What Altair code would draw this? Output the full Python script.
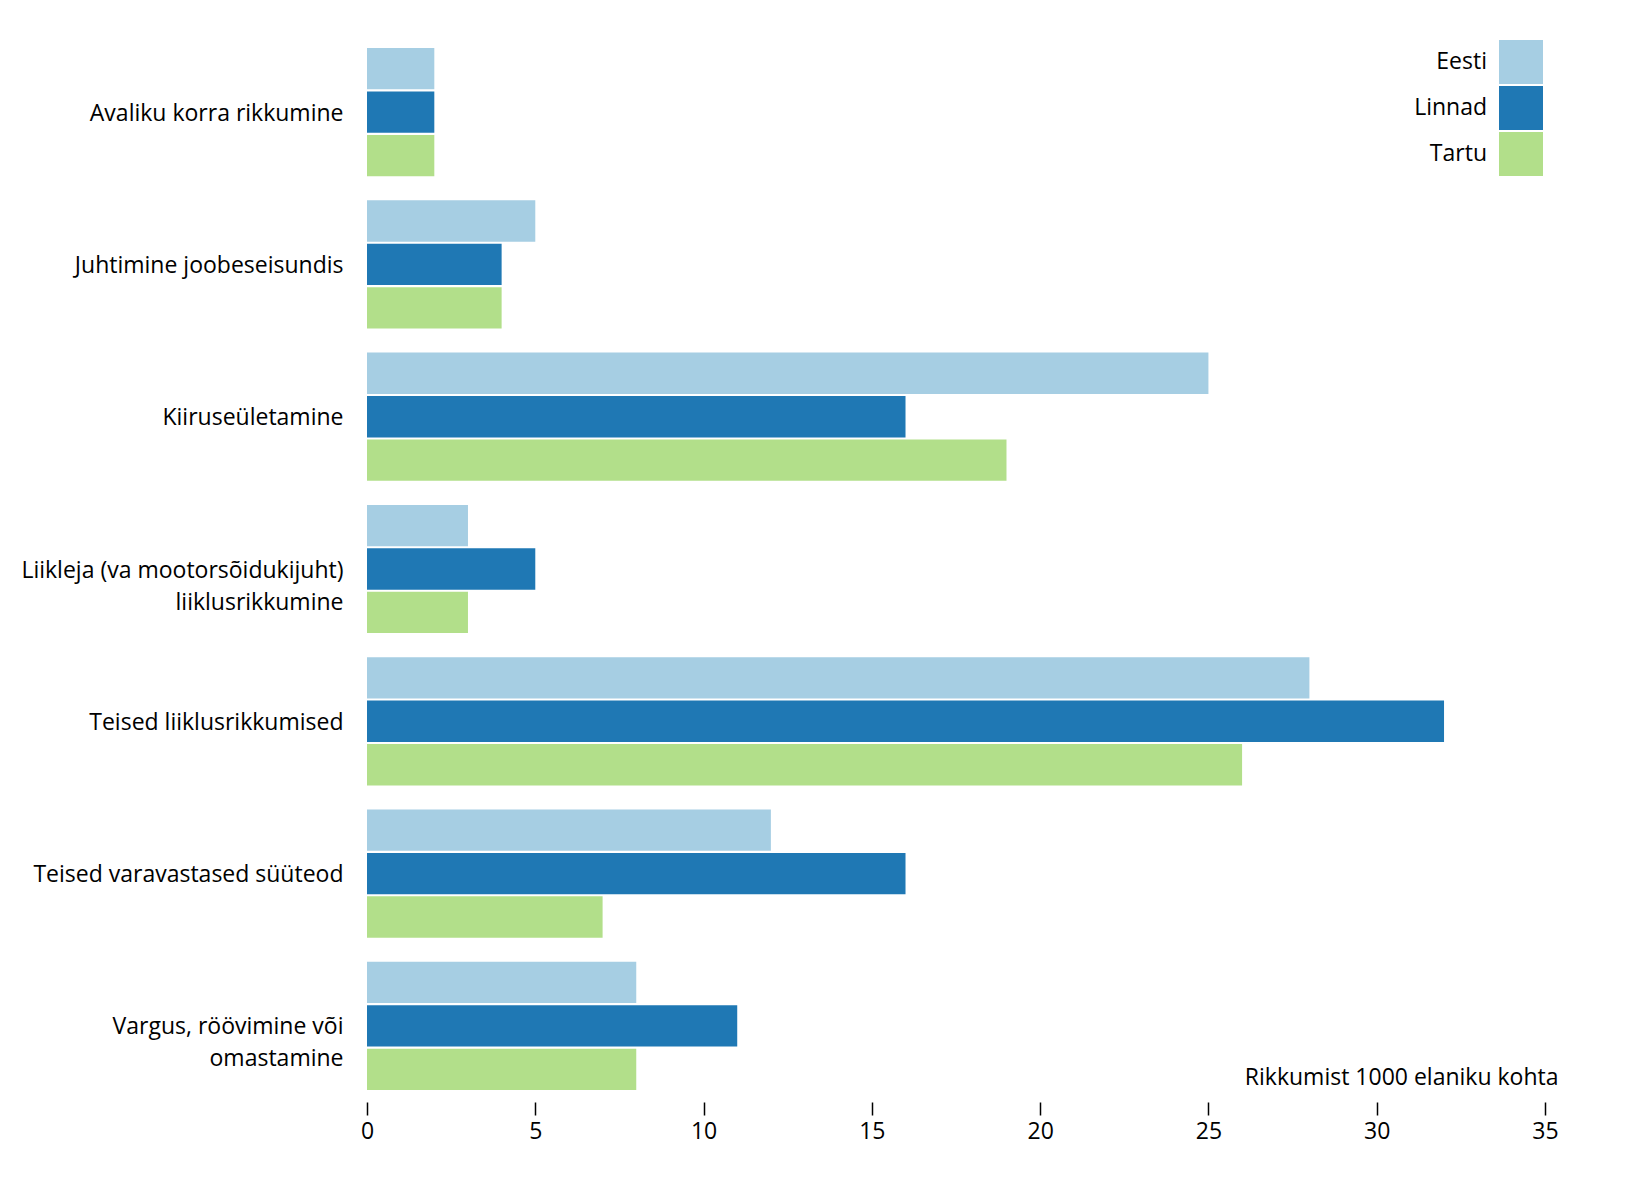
import altair as alt
import pandas as pd

categories = [
    "Avaliku korra rikkumine",
    "Juhtimine joobeseisundis",
    "Kiiruseületamine",
    "Liikleja (va mootorsõidukijuht)\nliiklusrikkumine",
    "Teised liiklusrikkumised",
    "Teised varavastased süüteod",
    "Vargus, röövimine või\nomastamine",
]
series = ["Eesti", "Linnad", "Tartu"]
eesti = [2, 5, 25, 3, 28, 12, 8]
linnad = [2, 4, 16, 5, 32, 16, 11]
tartu = [2, 4, 19, 3, 26, 7, 8]
colors = ["#a6cee3", "#1f78b4", "#b2df8a"]
x_ticks = [0, 5, 10, 15, 20, 25, 30, 35]
x_title = "Rikkumist 1000 elaniku kohta"

rows = []
for s, vals in zip(series, [eesti, linnad, tartu]):
    for c, v in zip(categories, vals):
        rows.append({"category": c, "series": s, "value": v})
df = pd.DataFrame(rows)

FONT = "Open Sans"
FS = 23

chart = alt.Chart(df).mark_bar().encode(
    x=alt.X(
        "value:Q",
        scale=alt.Scale(domain=[0, 35], nice=False, zero=True),
        axis=alt.Axis(
            values=x_ticks, title=x_title, domain=False, grid=False,
            tickSize=13, tickWidth=1.5, tickColor="black",
            labelFontSize=FS, labelFont=FONT, labelColor="black", labelPadding=5,
            labelFlush=False, offset=12,
            titleX=1191, titleY=-25, titleAlign="right", titleBaseline="middle",
            titleFontWeight="normal", titleFontSize=FS, titleFont=FONT, titleColor="black",
        ),
    ),
    y=alt.Y(
        "category:N", sort=categories,
        scale=alt.Scale(paddingInner=0.158, paddingOuter=0),
        axis=alt.Axis(
            title=None, domain=False, ticks=False, labelFontSize=FS, labelFont=FONT,
            labelColor="black", labelPadding=24, labelLimit=500, labelLineHeight=32,
            labelOffset=1.5,
            labelExpr="split(datum.label, '\\n')",
        ),
    ),
    yOffset=alt.YOffset("series:N", sort=series,
                        scale=alt.Scale(paddingInner=0.048, paddingOuter=0)),
    color=alt.Color(
        "series:N", scale=alt.Scale(domain=series, range=colors),
        legend=alt.Legend(
            title=None, orient="none", legendX=1132, legendY=-8,
            symbolType="square", symbolSize=1936, symbolStrokeWidth=0,
            labelAlign="right", labelOffset={"expr": "-56"}, labelBaseline="middle",
            labelFontSize=FS, labelFont=FONT, labelColor="black",
            rowPadding=2, padding=0,
        ),
    ),
).properties(
    width=1178, height=1042,
    padding={"left": 367, "top": 48, "right": 89, "bottom": 100},
    autosize=alt.AutoSizeParams(type="none"),
    background="white",
).configure(font=FONT).configure_view(strokeWidth=0, stroke=None)

chart.save("out.html", embed_options={"renderer": "svg", "actions": False})
